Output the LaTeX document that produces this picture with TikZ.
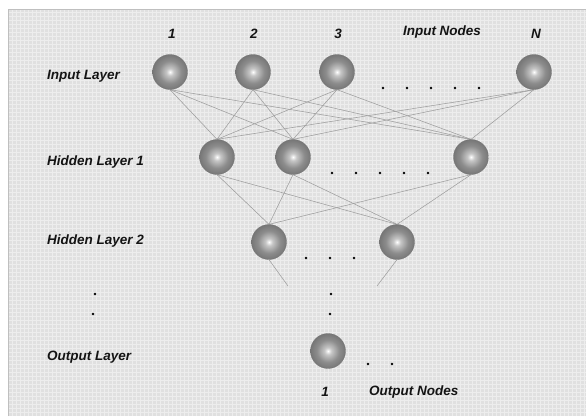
\documentclass[tikz,border=0pt]{standalone}
\usepackage{fontspec}
\setmainfont{Liberation Sans}
\usetikzlibrary{backgrounds}
\pgfdeclareradialshading{sphere}{\pgfpoint{0bp}{0bp}}{%
color(0bp)=(white);
color(5bp)=(black!22);
color(16bp)=(black!45);
color(32bp)=(black!60);
color(50bp)=(black!78)}
\begin{document}
\begin{tikzpicture}[x=1pt,y=-1pt,
  lbl/.style={font=\fontsize{13.5}{15}\selectfont\bfseries\itshape, text=black!92, inner sep=0pt},
  ball/.style={circle, minimum size=35pt, inner sep=0pt, shading=sphere, draw=black!55, line width=0.3pt},
  conn/.style={draw=black!38, line width=0.55pt},
  dotm/.style={fill=black, circle, inner sep=0pt, minimum size=2.6pt}]
\useasboundingbox (0,0) rectangle (586,416);
\begin{scope}[on background layer]
\fill[white] (0,0) rectangle (586,416);
\fill[black!12] (8,9) rectangle (586,416);
\draw[white, line width=0.5pt, opacity=0.45] (8,9) grid[step=4pt] (586,416);
\draw[black!25, line width=1pt] (8,416) -- (8,9) -- (586,9);
\end{scope}
% nodes
\node[ball] (I1) at (170,72) {};
\node[ball] (I2) at (253,72) {};
\node[ball] (I3) at (337,72) {};
\node[ball] (IN) at (534,72) {};
\node[ball] (H1) at (217,157) {};
\node[ball] (H2) at (293,157) {};
\node[ball] (H3) at (471,157) {};
\node[ball] (K1) at (269,242) {};
\node[ball] (K2) at (397,242) {};
\node[ball] (O) at (328,351) {};
\coordinate (s1) at (288,286);
\coordinate (s2) at (377,286);
% connectors
\begin{scope}[on background layer]
\foreach \a in {I1,I2,I3,IN}{
  \foreach \b in {H1,H2,H3}{
    \draw[conn] (\a.south) -- (\b.north);
  }
}
\foreach \a in {H1,H2,H3}{
  \foreach \b in {K1,K2}{
    \draw[conn] (\a.south) -- (\b.north);
  }
}
\draw[conn] (K1.south) -- (s1);
\draw[conn] (K2.south) -- (s2);
\end{scope}
% labels
\node[lbl] (n1) at (172,34) {1};
\node[lbl] (n2) at (254,34) {2};
\node[lbl] (n3) at (338,34) {3};
\node[lbl] (nN) at (536,34) {N};
\node[lbl] (inn) at (442,32) {Input Nodes};
\node[lbl, anchor=west] (L1) at (47,76) {Input Layer};
\node[lbl, anchor=west] (L2) at (47,162) {Hidden Layer 1};
\node[lbl, anchor=west] (L3) at (47,241) {Hidden Layer 2};
\node[lbl, anchor=west] (L4) at (47,357) {Output Layer};
\node[lbl] (o1) at (325,392) {1};
\node[lbl, anchor=west] (onn) at (369,392) {Output Nodes};
% dots
\foreach \x [count=\i] in {383,407,431,455,479}{ \node[dotm] (di\i) at (\x,88) {}; }
\foreach \x [count=\i] in {332,356,380,404,428}{ \node[dotm] (dh\i) at (\x,173) {}; }
\foreach \x [count=\i] in {306,330,354}{ \node[dotm] (dk\i) at (\x,258) {}; }
\node[dotm] (dv1) at (331,294) {};
\node[dotm] (dv2) at (330,314) {};
\node[dotm] (dl1) at (95,294) {};
\node[dotm] (dl2) at (93,314) {};
\node[dotm] (do1) at (368,364) {};
\node[dotm] (do2) at (392,364) {};
\end{tikzpicture}
\end{document}
